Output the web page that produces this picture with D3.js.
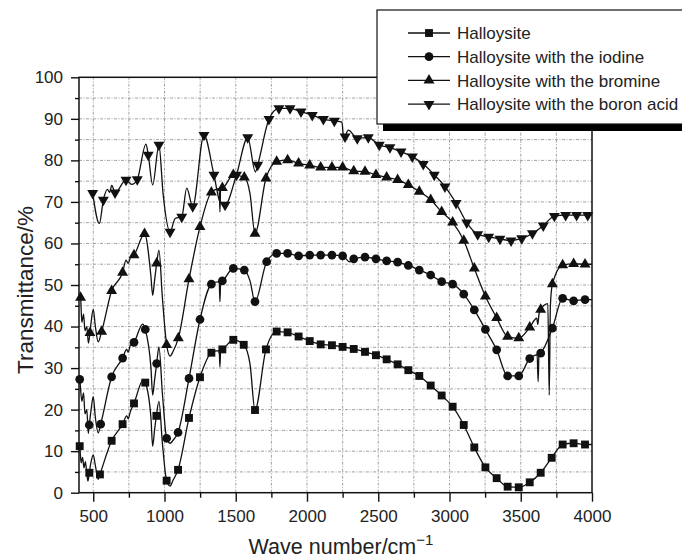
<!DOCTYPE html>
<html>
<head>
<meta charset="utf-8">
<script src="https://cdn.jsdelivr.net/npm/d3@7"></script>
<style>
	body { margin: 0; background: #fff; }
	text { font-family: "Liberation Sans", Arial, sans-serif; fill: #222; }
</style>
</head>
<body>
<svg id="container"></svg>
<script>
// x ticks / y ticks
const xMajor = [500, 1000, 1500, 2000, 2500, 3000, 3500, 4000]
const xMinor = [750, 1250, 1750, 2250, 2750, 3250, 3750]
const yMajor = [0, 10, 20, 30, 40, 50, 60, 70, 80, 90, 100]
const yMinor = [5, 15, 25, 35, 45, 55, 65, 75, 85, 95]

const seriesNames = [
	"Halloysite",
	"Halloysite with the iodine",
	"Halloysite with the bromine",
	"Halloysite with the boron acid"
]

// points carrying a marker [wavenumber, transmittance]
const halloMarks = [
	[405, 11.2], [472, 4.8], [547, 4.4], [629, 12.5], [706, 16.5], [786, 21.5], [865, 26.5],
	[943, 18.5], [1015, 2.9], [1095, 5.5], [1172, 18], [1249, 27.8], [1329, 33.7], [1406, 34.5],
	[1483, 36.8], [1556, 35.6], [1635, 19.9], [1712, 34.5], [1787, 38.8], [1864, 38.6], [1941, 37.6],
	[2019, 36.5], [2096, 35.7], [2175, 35.5], [2250, 35.1], [2328, 34.6], [2407, 33.9], [2484, 33.1],
	[2559, 32.1], [2636, 30.9], [2711, 29.5], [2788, 28.1], [2868, 25.8], [2945, 23.4], [3022, 20.7],
	[3100, 16.3], [3174, 10.9], [3252, 6.1], [3331, 3.5], [3408, 1.45], [3486, 1.3], [3563, 2.5],
	[3640, 4.8], [3717, 8.4], [3794, 11.6], [3871, 11.9], [3951, 11.6]
]
// extra spectrum points between the markers (peaks, dips, wiggles)
const halloLine = [
	[400, 12], [415, 7.2], [425, 8.5], [435, 6], [445, 7.5], [455, 4.5], [463, 2.8],
	[485, 7.5], [500, 9.1], [515, 6.5], [535, 3.2], [735, 18.5], [745, 17.8], [760, 19.5],
	[850, 27.1], [905, 18], [917, 11.2], [930, 15], [961, 22], [985, 12], [1039, 1.6], [1060, 3],
	[1384, 34.2], [1389, 30.3], [1394, 34.3], [1600, 31], [4000, 11.6]
]

const iodineMarks = [
	[405, 27.3], [472, 16.3], [552, 16.5], [629, 27.9], [706, 32.4], [786, 36.2], [865, 39.3],
	[945, 31.1], [1015, 13.1], [1095, 14.5], [1172, 27.5], [1249, 41.7], [1329, 50.2], [1406, 51],
	[1483, 54], [1560, 53.6], [1635, 46], [1717, 55.6], [1787, 57.6], [1864, 57.6], [1941, 57],
	[2019, 57.2], [2096, 57.2], [2175, 57.2], [2250, 57], [2328, 56.3], [2407, 56.7], [2484, 56.3],
	[2559, 55.8], [2636, 55.5], [2711, 54.7], [2788, 53.6], [2868, 52.4], [2945, 50.8], [3022, 50.2],
	[3100, 47.8], [3174, 44], [3252, 39.3], [3331, 34.4], [3408, 28.1], [3486, 28.1], [3563, 32.3],
	[3640, 33.6], [3722, 39.6], [3794, 46.8], [3871, 46.2], [3951, 46.5]
]
const iodineLine = [
	[400, 28], [420, 22], [432, 24], [442, 19], [455, 20], [465, 14.3],
	[485, 20], [500, 23.1], [515, 18], [535, 14.4], [735, 34.5], [745, 33.8], [760, 35.5],
	[847, 40.6], [905, 30], [917, 23.5], [930, 27], [961, 35.1], [985, 24], [1039, 11.9], [1060, 12.6],
	[1384, 50.8], [1389, 46], [1394, 50.8], [1600, 51], [2300, 55.6],
	[3615, 33.2], [3622, 26.7], [3628, 33.3], [4000, 46.5]
]

const bromineMarks = [
	[411, 47], [477, 38.5], [559, 38.8], [629, 48.6], [706, 53], [786, 57.2], [860, 62.3],
	[945, 55.2], [1015, 35.6], [1097, 37.2], [1172, 51.4], [1249, 64], [1329, 72.3], [1406, 73.4],
	[1483, 76.5], [1560, 75.9], [1635, 62.4], [1712, 75.7], [1787, 79.7], [1864, 80.1], [1941, 79.3],
	[2019, 78.8], [2096, 78.3], [2175, 78.3], [2250, 78.3], [2328, 77.4], [2407, 77.3], [2484, 76.5],
	[2559, 75.9], [2636, 75.3], [2711, 74.1], [2788, 72.5], [2868, 70.5], [2945, 67.6], [3022, 65.1],
	[3100, 60.7], [3174, 54], [3252, 47.3], [3331, 42.1], [3408, 37.6], [3486, 37.2], [3563, 39.8],
	[3640, 44.1], [3722, 50.2], [3794, 54.8], [3871, 55.1], [3951, 55]
]
const bromineLine = [
	[400, 48], [420, 41], [432, 43], [442, 39], [455, 40], [466, 36],
	[485, 41], [500, 44.1], [515, 40], [535, 36.3], [730, 56], [745, 55.2], [760, 56.5],
	[905, 52], [917, 47.5], [930, 51], [961, 58.4], [985, 47], [1039, 32.9], [1060, 34],
	[1384, 73.2], [1389, 67.6], [1394, 73.4], [1600, 72],
	[3612, 42], [3620, 40.5], [3628, 43], [3690, 45.5], [3700, 23.5], [3708, 45], [4000, 55]
]

const boronMarks = [
	[496, 72.1], [571, 70.5], [653, 72.2], [730, 75.3], [809, 75.4], [886, 81.3], [961, 83.7],
	[1039, 62.8], [1121, 66.4], [1198, 68.9], [1277, 86.1], [1347, 76.5], [1425, 69.3], [1505, 76.5],
	[1584, 85.5], [1654, 78.9], [1733, 89.9], [1803, 92.5], [1881, 92.5], [1958, 91.7], [2037, 90.9],
	[2115, 89.9], [2192, 89.5], [2267, 85.7], [2353, 85.3], [2430, 85.5], [2507, 83.7], [2582, 83.1],
	[2660, 82.1], [2739, 80.9], [2816, 79.1], [2893, 76.5], [2968, 73.7], [3046, 69.7], [3121, 65],
	[3198, 62.2], [3275, 61.6], [3354, 61.1], [3432, 60.7], [3507, 61.2], [3582, 62.4], [3658, 64.3],
	[3736, 66.6], [3815, 66.8], [3892, 66.8], [3970, 66.8]
]
const boronLine = [
	[543, 64.8], [600, 73], [615, 72.3], [630, 74], [770, 74.2], [870, 83.9], [917, 74.1],
	[990, 72], [1075, 66], [1156, 73.3], [1390, 70], [1638, 77.2],
	[2245, 89.2], [2258, 85], [2290, 87.3], [4000, 66.8]
]

const series = [
	{ marks: halloMarks, extra: halloLine, shape: "square" },
	{ marks: iodineMarks, extra: iodineLine, shape: "circle" },
	{ marks: bromineMarks, extra: bromineLine, shape: "up" },
	{ marks: boronMarks, extra: boronLine, shape: "down" }
]

const W = 682
const H = 560
const margin = { left: 79, right: 90, top: 77.3, bottom: 67.3 }

const symbolPath = (shape) => {
	if (shape === "square") return d3.symbol(d3.symbolSquare, 62)()
	if (shape === "circle") return d3.symbol(d3.symbolCircle, 60)()
	return d3.symbol(d3.symbolTriangle, 52)()
}

const drawMarker = (g, shape, cx, cy) => {
	g.append("path")
	 .attr("d", symbolPath(shape))
	 .attr("transform", `translate(${cx},${cy})` + (shape === "down" ? " rotate(180)" : ""))
	 .attr("fill", "#111")
}

const setup = () => {
	const svg = d3.select("#container")
	svg.attr("width", W)
	   .attr("height", H)

	const x = d3.scaleLinear().domain([400, 4000]).range([margin.left, W - margin.right])
	const y = d3.scaleLinear().domain([0, 100]).range([H - margin.bottom, margin.top])

	// dashed grid
	const grid = svg.append("g")
	grid.selectAll("line.gx")
	    .data([...xMajor, ...xMinor].filter(d => d < 4000))
	    .join("line")
	    .attr("x1", d => x(d)).attr("x2", d => x(d))
	    .attr("y1", y(0)).attr("y2", y(100))
	grid.selectAll("line.gy")
	    .data([...yMajor, ...yMinor].filter(d => d > 0 && d < 100))
	    .join("line")
	    .attr("class", "gy")
	    .attr("x1", x(400)).attr("x2", x(4000))
	    .attr("y1", d => y(d)).attr("y2", d => y(d))
	grid.selectAll("line")
	    .attr("stroke", "#8a8a8a")
	    .attr("stroke-width", 0.8)
	    .attr("stroke-dasharray", "3,1.5,1,1.5")

	// axes: minor ticks, then major ticks with labels
	const fmt = d3.format("d")
	const gx = svg.append("g").attr("transform", `translate(0,${y(0)})`)
	gx.call(d3.axisBottom(x).tickValues(xMinor).tickSize(5).tickSizeOuter(0).tickFormat(""))
	gx.append("g").call(d3.axisBottom(x).tickValues(xMajor).tickSize(9).tickSizeOuter(0).tickPadding(8).tickFormat(fmt))
	const gy = svg.append("g").attr("transform", `translate(${x(400)},0)`)
	gy.call(d3.axisLeft(y).tickValues(yMinor).tickSize(4).tickSizeOuter(0).tickFormat(""))
	gy.append("g").call(d3.axisLeft(y).tickValues(yMajor).tickSize(8).tickSizeOuter(0).tickPadding(8).tickFormat(fmt))
	svg.selectAll(".domain").remove()
	svg.selectAll(".tick line").attr("stroke", "#111").attr("stroke-width", 1.4)
	svg.selectAll(".tick text")
	   .attr("font-size", 17)
	   .attr("font-family", "Liberation Sans, Arial, sans-serif")
	   .attr("fill", "#222")

	// frame
	svg.append("rect")
	   .attr("x", x(400)).attr("y", y(100))
	   .attr("width", x(4000) - x(400)).attr("height", y(0) - y(100))
	   .attr("fill", "none")
	   .attr("stroke", "#111")
	   .attr("stroke-width", 1.5)

	// spectra
	const lineGenerator = d3.line()
	                        .x(d => x(d[0]))
	                        .y(d => y(d[1]))
	                        .curve(d3.curveMonotoneX)
	for (let s of series) {
		const pts = [...s.marks, ...s.extra].sort((a, b) => a[0] - b[0])
		svg.append("path")
		   .attr("d", lineGenerator(pts))
		   .attr("fill", "none")
		   .attr("stroke", "#111")
		   .attr("stroke-width", 1.3)
		const g = svg.append("g")
		for (let p of s.marks) {
			drawMarker(g, s.shape, x(p[0]), y(p[1]))
		}
	}

	// axis titles
	const xt = svg.append("text")
	              .attr("x", 341)
	              .attr("y", 554)
	              .attr("text-anchor", "middle")
	              .attr("font-size", 21.5)
	xt.append("tspan").text("Wave number/cm")
	xt.append("tspan").text("\u22121").attr("font-size", 15).attr("dy", -9)

	svg.append("text")
	   .attr("transform", "rotate(-90)")
	   .attr("x", -290)
	   .attr("y", 33)
	   .attr("text-anchor", "middle")
	   .attr("font-size", 22.5)
	   .text("Transmittance/%")

	// legend with shadow
	const lg = svg.append("g")
	lg.append("rect")
	  .attr("x", 383).attr("y", 17)
	  .attr("width", 320).attr("height", 114)
	  .attr("fill", "#000")
	lg.append("rect")
	  .attr("x", 377).attr("y", 10)
	  .attr("width", 320).attr("height", 114)
	  .attr("fill", "#fff")
	  .attr("stroke", "#111")
	  .attr("stroke-width", 1.2)
	seriesNames.forEach((name, i) => {
		const cy = 33 + i * 23.7
		lg.append("line")
		  .attr("x1", 408).attr("x2", 450)
		  .attr("y1", cy).attr("y2", cy)
		  .attr("stroke", "#111")
		  .attr("stroke-width", 1.3)
		drawMarker(lg, series[i].shape, 429, cy)
		lg.append("text")
		  .attr("x", 457)
		  .attr("y", cy)
		  .attr("dy", "0.36em")
		  .attr("font-size", 17)
		  .text(name)
	})
}

document.addEventListener("DOMContentLoaded", setup)
</script>
</body>
</html>
